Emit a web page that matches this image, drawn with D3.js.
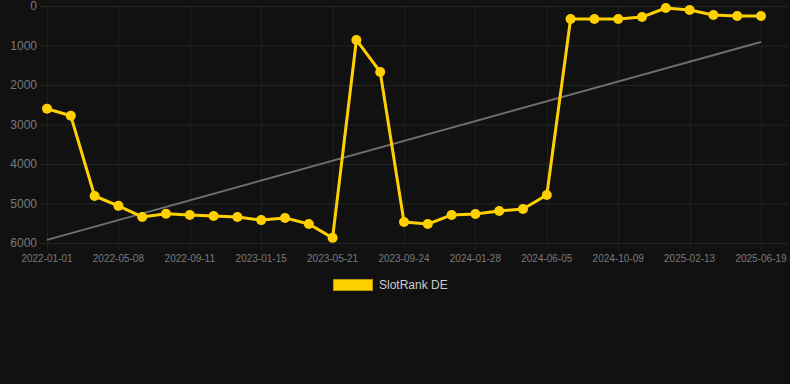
<!DOCTYPE html>
<html>
<head>
<meta charset="utf-8">
<script src="https://cdn.jsdelivr.net/npm/d3@7"></script>
<style>
  html, body { margin: 0; padding: 0; background: #111111; }
  svg { display: block; font-family: "Liberation Sans", Arial, sans-serif; }
</style>
</head>
<body>
<script>
// categories (dates) and ranks
var dates = ["2022-01-01","2022-02-12","2022-03-26","2022-05-08","2022-06-19","2022-07-31",
    "2022-09-11","2022-10-23","2022-12-04","2023-01-15","2023-02-26","2023-04-09",
    "2023-05-21","2023-07-02","2023-08-13","2023-09-24","2023-11-05","2023-12-17",
    "2024-01-28","2024-03-10","2024-04-21","2024-06-05","2024-07-17","2024-08-28",
    "2024-10-09","2024-11-20","2025-01-01","2025-02-13","2025-03-27","2025-05-08","2025-06-19"];
var ranks = [2600, 2780, 4810, 5060, 5340, 5260, 5290, 5315, 5340, 5420, 5365, 5520,
    5870, 860, 1670, 5470, 5520, 5290, 5265, 5190, 5140, 4785, 330, 330,
    330, 280, 50, 100, 230, 255, 255];
var trendValues = [5920, 910];
var yTicks = [0, 1000, 2000, 3000, 4000, 5000, 6000];
var seriesName = "SlotRank DE";

var width = 790, height = 384;
var margin = {top: 6, right: 29, bottom: 141, left: 47};

var svg = d3.select("body").append("svg")
    .attr("width", width)
    .attr("height", height);

svg.append("rect").attr("width", width).attr("height", height).attr("fill", "#111111");

var x = d3.scalePoint()
    .domain(dates)
    .range([margin.left, width - margin.right]);

var y = d3.scaleLinear()
    .domain([0, 6000])
    .range([margin.top, height - margin.bottom]);

var tickDates = dates.filter(function(d, i) { return i % 3 == 0; });

// horizontal grid
svg.append("g")
    .selectAll("line")
    .data(yTicks)
    .enter().append("line")
    .attr("x1", margin.left - 7)
    .attr("x2", width - 2)
    .attr("y1", function(d) { return y(d) + 0.5; })
    .attr("y2", function(d) { return y(d) + 0.5; })
    .attr("stroke", "#242424")
    .attr("stroke-width", 1);

// vertical grid
svg.append("g")
    .selectAll("line")
    .data(tickDates)
    .enter().append("line")
    .attr("x1", function(d) { return Math.round(x(d)) + 0.5; })
    .attr("x2", function(d) { return Math.round(x(d)) + 0.5; })
    .attr("y1", margin.top)
    .attr("y2", height - margin.bottom + 7)
    .attr("stroke", "#1f1f1f")
    .attr("stroke-width", 1);

// y labels
svg.append("g")
    .selectAll("text")
    .data(yTicks)
    .enter().append("text")
    .attr("x", 37)
    .attr("y", function(d) { return y(d); })
    .attr("dy", "0.35em")
    .attr("text-anchor", "end")
    .attr("fill", "#7a7a7a")
    .attr("font-size", 12)
    .text(function(d) { return d; });

// x labels
svg.append("g")
    .selectAll("text")
    .data(tickDates)
    .enter().append("text")
    .attr("x", function(d) { return x(d); })
    .attr("y", height - margin.bottom + 19)
    .attr("text-anchor", "middle")
    .attr("fill", "#7a7a7a")
    .attr("font-size", 10)
    .text(function(d) { return d; });

// trend line
svg.append("line")
    .attr("x1", x(dates[0]))
    .attr("x2", x(dates[dates.length - 1]))
    .attr("y1", y(trendValues[0]))
    .attr("y2", y(trendValues[1]))
    .attr("stroke", "#6e6e6e")
    .attr("stroke-width", 2);

// main line
var line = d3.line()
    .x(function(d, i) { return x(dates[i]); })
    .y(function(d) { return y(d); });

svg.append("path")
    .datum(ranks)
    .attr("d", line)
    .attr("fill", "none")
    .attr("stroke", "#ffd000")
    .attr("stroke-width", 3)
    .attr("stroke-linejoin", "round");

svg.append("g")
    .selectAll("circle")
    .data(ranks)
    .enter().append("circle")
    .attr("cx", function(d, i) { return x(dates[i]); })
    .attr("cy", function(d) { return y(d); })
    .attr("r", 5)
    .attr("fill", "#ffd000");

// legend
var legend = svg.append("g");
legend.append("rect")
    .attr("x", 333.5)
    .attr("y", 279.5)
    .attr("width", 39)
    .attr("height", 11)
    .attr("fill", "#ffd000")
    .attr("stroke", "#b89600")
    .attr("stroke-width", 1);
legend.append("text")
    .attr("x", 379)
    .attr("y", 285)
    .attr("dy", "0.35em")
    .attr("fill", "#cccccc")
    .attr("font-size", 12)
    .text(seriesName);
</script>
</body>
</html>
